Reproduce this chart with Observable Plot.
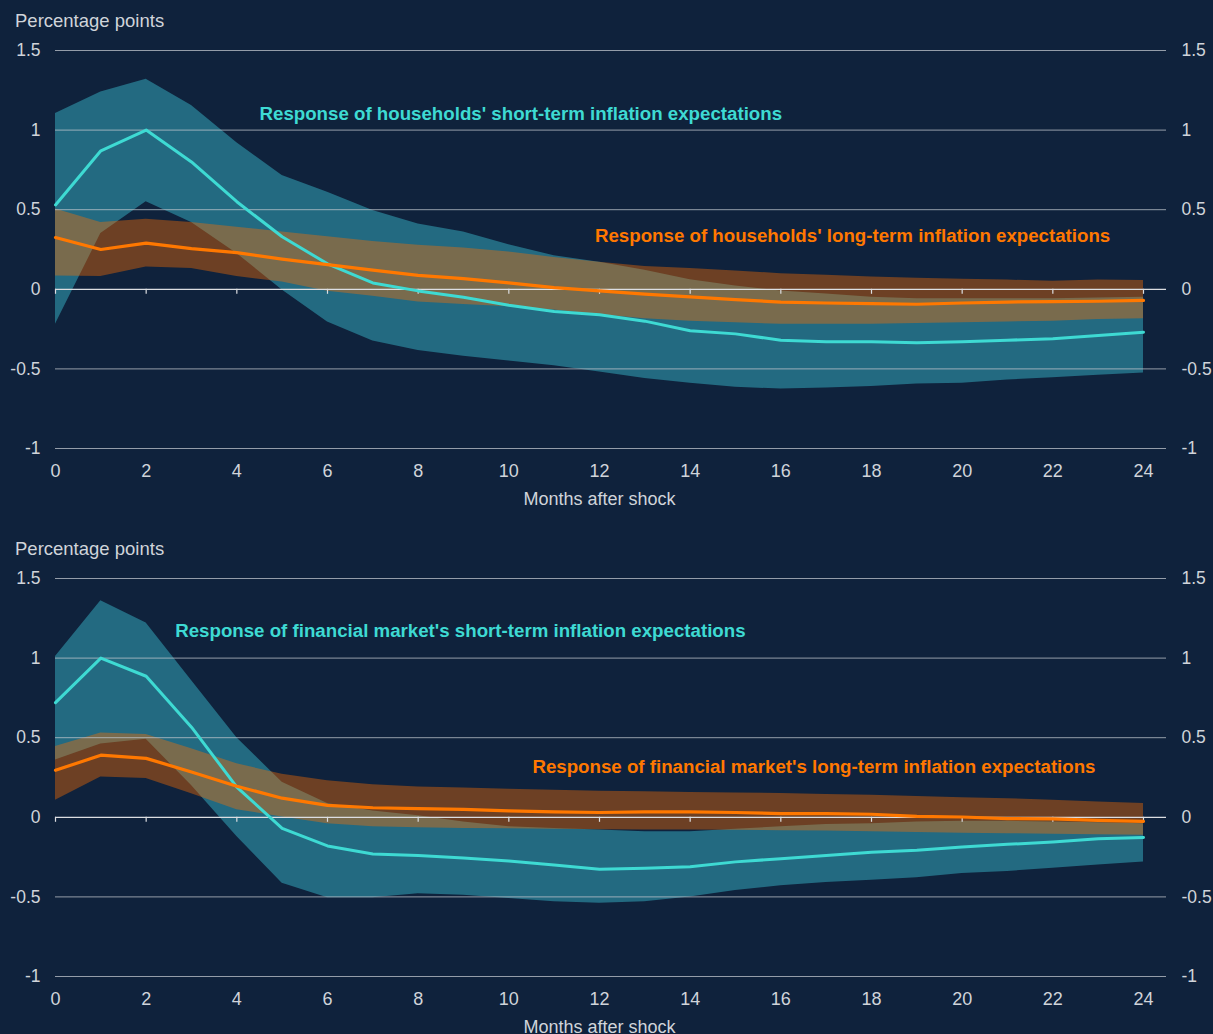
<!DOCTYPE html>
<html>
<head>
<meta charset="utf-8">
<script src="https://cdn.jsdelivr.net/npm/d3@7"></script>
<script src="https://cdn.jsdelivr.net/npm/@observablehq/plot@0.6"></script>
<style>
  html, body { margin: 0; padding: 0; background: #0f223c; }
  body { width: 1213px; height: 1034px; overflow: hidden; font-family: "Liberation Sans", Arial, sans-serif; }
  .unit { height: 36px; box-sizing: border-box; padding: 11px 0 0 15px; line-height: 20px; font-size: 18.5px; color: #d0d4da; }
  .gap { height: 15px; }
  svg { display: block; }
</style>
</head>
<body>
<div id="chart"></div>
<script>
// ---------- data ----------
const months = [0,1,2,3,4,5,6,7,8,9,10,11,12,13,14,15,16,17,18,19,20,21,22,23,24];
const xTicks = [0,2,4,6,8,10,12,14,16,18,20,22,24];
const yTicks = [-1,-0.5,0,0.5,1,1.5];

// Households
const hhShort   = [0.53,0.87,1.0,0.80,0.55,0.33,0.16,0.04,-0.01,-0.05,-0.10,-0.14,-0.16,-0.20,-0.26,-0.28,-0.32,-0.33,-0.33,-0.335,-0.33,-0.32,-0.31,-0.29,-0.27];
const hhShortHi = [1.105,1.24,1.32,1.155,0.92,0.715,0.61,0.495,0.41,0.36,0.28,0.21,0.17,0.12,0.06,0.02,-0.01,-0.03,-0.05,-0.06,-0.06,-0.06,-0.06,-0.055,-0.05];
const hhShortLo = [-0.22,0.35,0.55,0.42,0.225,-0.005,-0.205,-0.325,-0.385,-0.42,-0.45,-0.48,-0.52,-0.56,-0.59,-0.615,-0.627,-0.62,-0.61,-0.595,-0.59,-0.57,-0.556,-0.54,-0.525];
const hhLong    = [0.325,0.25,0.29,0.255,0.23,0.19,0.155,0.12,0.088,0.067,0.04,0.01,-0.01,-0.03,-0.048,-0.065,-0.08,-0.086,-0.09,-0.094,-0.086,-0.08,-0.077,-0.075,-0.07];
const hhLongHi  = [0.505,0.42,0.44,0.42,0.39,0.36,0.33,0.30,0.276,0.26,0.234,0.2,0.17,0.144,0.13,0.115,0.098,0.088,0.077,0.07,0.063,0.058,0.05,0.058,0.056];
const hhLongLo  = [0.083,0.08,0.14,0.13,0.08,0.046,-0.013,-0.044,-0.08,-0.096,-0.11,-0.13,-0.16,-0.185,-0.2,-0.21,-0.22,-0.22,-0.22,-0.215,-0.21,-0.205,-0.2,-0.19,-0.185];

// Financial market
const fmShort   = [0.72,1.0,0.886,0.566,0.19,-0.07,-0.18,-0.23,-0.24,-0.255,-0.275,-0.30,-0.326,-0.32,-0.31,-0.28,-0.26,-0.24,-0.22,-0.207,-0.186,-0.17,-0.155,-0.134,-0.127];
const fmShortHi = [1.01,1.36,1.22,0.86,0.5,0.22,0.086,0.04,0.01,-0.03,-0.06,-0.07,-0.08,-0.09,-0.09,-0.075,-0.06,-0.045,-0.04,-0.03,-0.025,-0.025,-0.03,-0.035,-0.04];
const fmShortLo = [0.36,0.46,0.49,0.2,-0.12,-0.415,-0.505,-0.505,-0.48,-0.49,-0.51,-0.53,-0.54,-0.53,-0.5,-0.46,-0.43,-0.41,-0.395,-0.38,-0.353,-0.34,-0.32,-0.3,-0.28];
const fmLong    = [0.295,0.39,0.37,0.285,0.195,0.12,0.075,0.06,0.055,0.05,0.04,0.034,0.03,0.034,0.034,0.03,0.023,0.023,0.019,0.006,0.002,-0.008,-0.01,-0.019,-0.025];
const fmLongHi  = [0.445,0.53,0.52,0.43,0.336,0.27,0.23,0.205,0.19,0.184,0.176,0.17,0.163,0.16,0.155,0.153,0.15,0.144,0.138,0.13,0.123,0.117,0.107,0.096,0.086];
const fmLongLo  = [0.107,0.253,0.243,0.148,0.048,0.002,-0.04,-0.06,-0.065,-0.07,-0.072,-0.075,-0.078,-0.08,-0.08,-0.082,-0.084,-0.086,-0.09,-0.095,-0.1,-0.103,-0.106,-0.11,-0.113];

// Annotation labels (anchored in data units: month, percentage points)
const hhShortLabel = [{month: 4.5, value: 1.10, text: "Response of households' short-term inflation expectations"}];
const hhLongLabel  = [{month: 11.9, value: 0.335, text: "Response of households' long-term inflation expectations"}];
const fmShortLabel = [{month: 2.64, value: 1.17, text: "Response of financial market's short-term inflation expectations"}];
const fmLongLabel  = [{month: 10.52, value: 0.315, text: "Response of financial market's long-term inflation expectations"}];

// ---------- styles ----------
const CYAN = "#3edad3", CYAN_BAND = "#40d8e8";
const ORANGE = "#ff7800", ORANGE_BAND = "#fa6e00";
const TEXT = "#d0d4da", GRID = "#c2c7ce";
const FONT = "Liberation Sans, Arial, sans-serif";

function rows(mid, lo, hi) {
  return months.map((m, i) => ({month: m, mid: mid[i], lo: lo[i], hi: hi[i]}));
}

function panel(shortRows, longRows, shortLabel, longLabel) {
  return Plot.plot({
    width: 1213,
    height: 477,
    marginTop: 14,
    marginBottom: 65,
    marginLeft: 55,
    marginRight: 70,
    style: {background: "transparent", color: TEXT, fontFamily: FONT, fontSize: "17.5px", overflow: "visible"},
    x: {domain: [0, 24]},
    y: {domain: [-1, 1.5]},
    marks: [
      Plot.areaY(shortRows, {x: "month", y1: "lo", y2: "hi", fill: CYAN_BAND, fillOpacity: 0.4}),
      Plot.areaY(longRows, {x: "month", y1: "lo", y2: "hi", fill: ORANGE_BAND, fillOpacity: 0.4}),
      Plot.ruleY(yTicks.filter(d => d !== 0), {stroke: GRID, strokeOpacity: 0.75, strokeWidth: 1, insetRight: -23}),
      Plot.ruleY([0], {stroke: "#dcdee2", strokeWidth: 1.2, insetRight: -23}),
      Plot.ruleX(xTicks, {x: d => d, y1: 0, y2: 0, insetBottom: -5, stroke: "#dcdee2", strokeWidth: 1.2}),
      Plot.lineY(shortRows, {x: "month", y: "mid", stroke: CYAN, strokeWidth: 3}),
      Plot.lineY(longRows, {x: "month", y: "mid", stroke: ORANGE, strokeWidth: 3.2}),
      Plot.text(shortLabel, {x: "month", y: "value", text: "text", fill: CYAN, textAnchor: "start", fontWeight: "bold", fontSize: 18.7}),
      Plot.text(longLabel, {x: "month", y: "value", text: "text", fill: ORANGE, textAnchor: "start", fontWeight: "bold", fontSize: 18.7}),
      Plot.axisX({ticks: xTicks, tickSize: 0, tickPadding: 15.5, tickFormat: d => String(d), label: "Months after shock", labelAnchor: "center", labelArrow: "none", labelOffset: 56, fontSize: 18}),
      Plot.axisY({anchor: "left", ticks: yTicks, tickSize: 0, tickPadding: 15, tickFormat: d => String(d), label: null, fontSize: 17.5}),
      Plot.axisY({anchor: "right", ticks: yTicks, tickSize: 0, tickPadding: 38, tickFormat: d => String(d), label: null, fontSize: 17.5})
    ]
  });
}

const root = document.getElementById("chart");
function addPanel(svg) {
  const u = document.createElement("div");
  u.className = "unit";
  u.textContent = "Percentage points";
  root.appendChild(u);
  root.appendChild(svg);
}
addPanel(panel(rows(hhShort, hhShortLo, hhShortHi), rows(hhLong, hhLongLo, hhLongHi), hhShortLabel, hhLongLabel));
const g = document.createElement("div"); g.className = "gap"; root.appendChild(g);
addPanel(panel(rows(fmShort, fmShortLo, fmShortHi), rows(fmLong, fmLongLo, fmLongHi), fmShortLabel, fmLongLabel));
</script>
</body>
</html>
